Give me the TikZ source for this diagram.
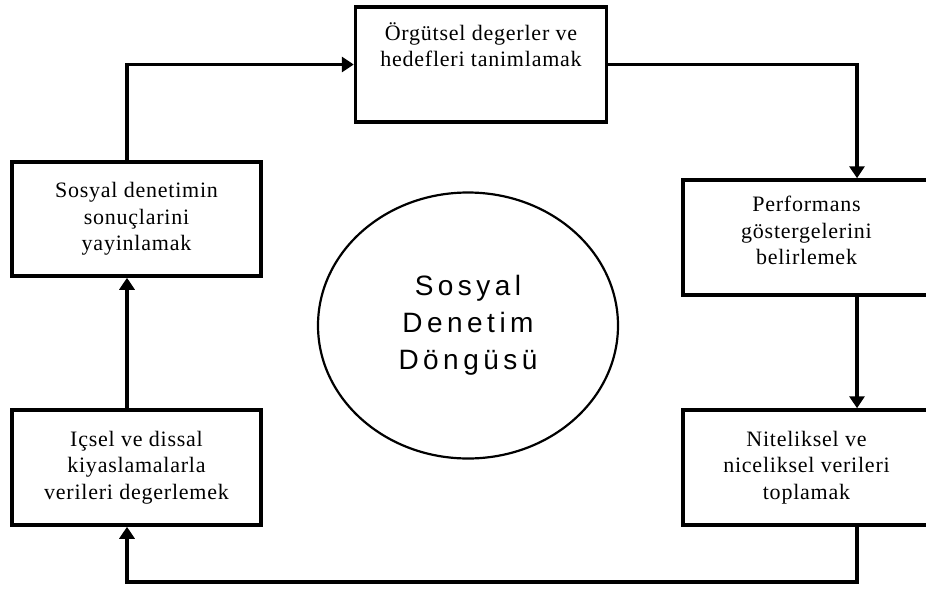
\documentclass[tikz,border=0pt]{standalone}
\usepackage{fontspec}
\setmainfont{Liberation Serif}[LetterSpace=3.5]
\newfontfamily\ellfont{Liberation Sans}[LetterSpace=16]
\usetikzlibrary{arrows.meta,calc,shapes.geometric}
\tikzset{
  stepbox/.style={draw, line width=3.5pt, rectangle, inner sep=0pt,
    align=center, font=\fontsize{22}{26.5}\selectfont},
  flow/.style={line width=3.5pt, -{Triangle[length=12pt,width=15pt]}}
}
\begin{document}
\begin{tikzpicture}[x=1pt,y=-1pt]
\useasboundingbox (0,0) rectangle (926,589);
\clip (0,0) rectangle (926,589);
% boxes
\node[stepbox, minimum width=251pt, minimum height=115pt] (top) at (481,64.5)
  {Örgütsel degerler ve\\hedefleri tanimlamak\\[5pt]\strut};
\node[stepbox, minimum width=249pt, minimum height=114pt] (ul) at (136.5,219)
  {Sosyal denetimin\\sonuçlarini\\yayinlamak};
\node[stepbox, minimum width=249pt, minimum height=115pt] (ll) at (136.5,467.5)
  {Içsel ve dissal\\kiyaslamalarla\\verileri degerlemek};
\node[stepbox, minimum width=247pt, minimum height=115pt] (ur) at (806.5,237.5)
  {Performans\\göstergelerini\\belirlemek\\[-20pt]\strut};
\node[stepbox, minimum width=247pt, minimum height=115pt] (lr) at (806.5,467.5)
  {Niteliksel ve\\niceliksel verileri\\toplamak};
% ellipse
\node[draw, line width=2.2pt, ellipse, minimum width=300pt, minimum height=266pt,
  inner sep=0pt, align=center, font=\ellfont\fontsize{28}{37}\selectfont]
  (cyc) at (468,325.5) {Sosyal\\Denetim\\Döngüsü};
% connectors
\coordinate (lowcorner) at (857,582);
\draw[flow] ([xshift=-9.5pt]ul.north) |- (top.west);
\draw[flow] (top.east) -| ([xshift=50.5pt]ur.north);
\draw[flow] ([xshift=50.5pt]ur.south) -- ([xshift=50.5pt]lr.north);
\draw[flow] ([xshift=50.5pt]lr.south) -- (lowcorner) -| ([xshift=-9.5pt]ll.south);
\draw[flow] ([xshift=-9.5pt]ll.north) -- ([xshift=-9.5pt]ul.south);
\end{tikzpicture}
\end{document}
